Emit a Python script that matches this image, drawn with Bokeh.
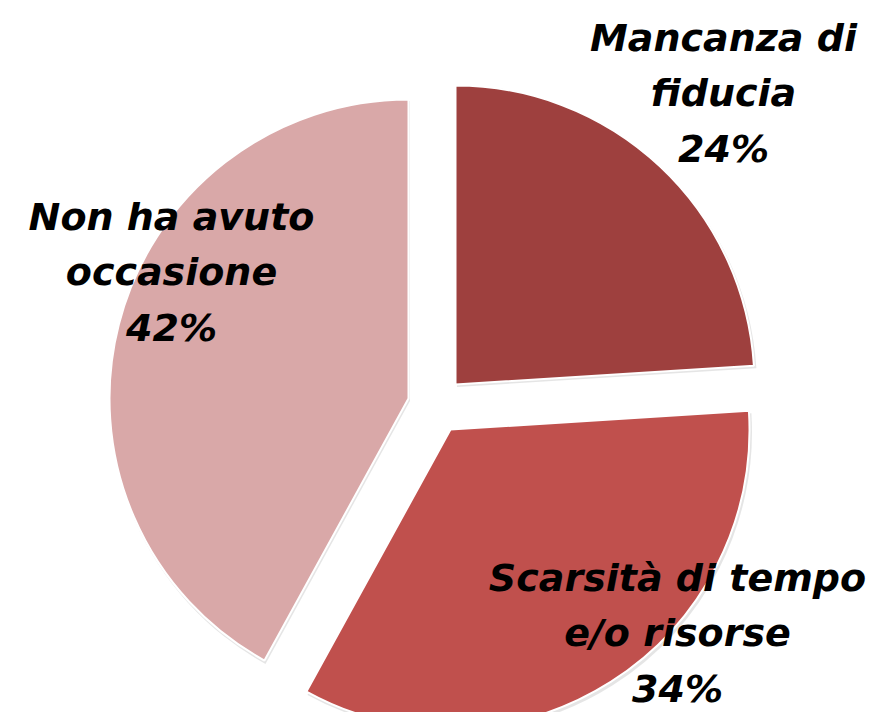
import numpy as np
from bokeh.plotting import figure
from bokeh.models import ColumnDataSource
from bokeh.embed import file_html
from bokeh.resources import INLINE
from bokeh.core.properties import value

# ---- data ----
categories = ["Mancanza di fiducia", "Scarsità di tempo e/o risorse", "Non ha avuto occasione"]
label_lines = ["Mancanza di\nfiducia", "Scarsità di tempo\ne/o risorse", "Non ha avuto\noccasione"]
values = [24, 34, 42]
colors = ["#9E403E", "#C0504D", "#D9A8A8"]

# ---- layout (pixels in plot space, y up) ----
W, H = 869, 712
pie_center = (435, 307)
radius = 299
explode = [(20, 21), (15, -24), (-27, 7)]          # per-slice offset of exploded slices
label_pos = [(723, 619), (677, 79), (171, 440)]     # label block centres

vals = np.array(values, dtype=float)
frac = vals / vals.sum()
bounds = np.concatenate([[0], np.cumsum(frac) * 360.0])   # clockwise from 12 o'clock
start = np.deg2rad(90 - bounds[1:])
end = np.deg2rad(90 - bounds[:-1])

cx = [pie_center[0] + e[0] for e in explode]
cy = [pie_center[1] + e[1] for e in explode]

src = ColumnDataSource(dict(
    x=cx, y=cy, start=start, end=end, color=colors, cat=categories,
    sx=[c + 1.5 for c in cx], sy=[c - 2.5 for c in cy],
))

p = figure(width=W, height=H, x_range=(0, W), y_range=(0, H),
           output_backend="svg", toolbar_location=None, min_border=0,
           background_fill_color="white", border_fill_color="white")
p.outline_line_color = None
p.axis.visible = False
p.grid.visible = False

# soft shadow
p.wedge(x="sx", y="sy", radius=radius + 1, start_angle="start", end_angle="end",
        direction="anticlock", source=src, fill_color="#000000", fill_alpha=0.10,
        line_color=None)
p.wedge(x="x", y="y", radius=radius, start_angle="start", end_angle="end",
        direction="anticlock", source=src, fill_color="color",
        line_color="white", line_width=2)

labels = [f"{l}\n{v}%" for l, v in zip(label_lines, values)]
lsrc = ColumnDataSource(dict(x=[q[0] for q in label_pos], y=[q[1] for q in label_pos], t=labels))
p.text(x="x", y="y", text="t", source=lsrc, text_align="center", text_baseline="middle",
       text_font=value("DejaVu Sans"), text_font_style="bold italic",
       text_font_size="38px", text_color="black", text_line_height=1.26)

open("out.html", "w").write(file_html(p, INLINE))
